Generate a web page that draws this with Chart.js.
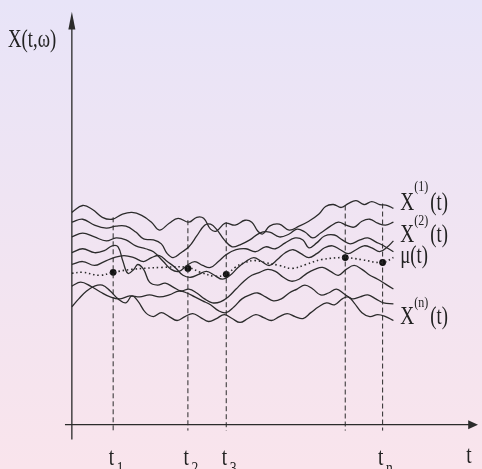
<!DOCTYPE html>
<html>
<head>
<meta charset="utf-8">
<script src="https://cdn.jsdelivr.net/npm/chart.js@4"></script>
<style>
    html, body { margin: 0; padding: 0; background: #f0e4f1; }
    canvas { display: block; }
</style>
</head>
<body>
<canvas id="chart" width="482" height="469"></canvas>
<script>
// sample paths X^(k)(t): pairs of [t, value]
var pathA = [[0,216],[11,223],[21,219],[31,211],[41,209],[51,214],[61,216],[71,213],[81,206],[89,198],[99,205],[108,210],[119,206],[127,211],[134,210],[141,199],[147,197],[156,205],[166,203],[176,208],[183,206],[189,197],[194,194],[201,202],[211,204],[221,198],[231,202],[241,207],[251,214],[258,222],[266,224],[274,221],[281,225],[289,228],[297,224],[305,227],[313,224],[321,223],[327,220]];
var pathB = [[0,206],[11,209],[23,203],[35,200],[45,202],[55,202],[65,196],[73,189],[83,188],[91,184],[97,174],[103,170],[111,175],[119,181],[127,192],[135,203],[141,204],[147,199],[155,188],[163,181],[171,183],[181,188],[191,195],[201,196],[211,191],[221,194],[229,199],[237,196],[245,190],[253,195],[263,202],[271,206],[279,203],[287,201],[295,207],[303,209],[311,205],[319,203],[327,206]];
var pathC = [[0,191],[11,195],[23,191],[35,187],[45,190],[55,188],[65,182],[75,179],[83,176],[93,166],[101,158],[109,156],[117,162],[125,166],[133,162],[141,160],[149,166],[157,173],[167,178],[177,179],[187,176],[197,181],[207,179],[217,185],[227,190],[235,188],[241,180],[249,185],[257,192],[267,193],[275,188],[283,184],[293,188],[301,190],[309,186],[317,182],[327,176]];
var pathD = [[0,175],[11,179],[23,175],[33,177],[41,182],[47,181],[52,166],[57,154],[63,158],[67,163],[73,158],[79,145],[87,142],[95,144],[103,140],[111,136],[119,138],[127,134],[135,128],[143,124],[151,125],[159,130],[167,138],[175,146],[183,152],[191,155],[199,158],[207,156],[215,150],[223,146],[231,148],[239,154],[247,158],[255,160],[263,156],[271,152],[279,158],[287,162],[295,158],[303,152],[311,148],[319,143],[327,138]];
var pathE = [[0,163],[11,166],[23,162],[33,166],[43,170],[53,172],[63,170],[73,166],[81,170],[89,172],[97,166],[105,160],[113,152],[121,150],[129,153],[137,156],[145,152],[153,148],[161,152],[169,160],[177,166],[185,170],[193,166],[201,162],[209,168],[217,175],[225,178],[233,174],[241,170],[249,174],[257,180],[265,182],[273,178],[281,174],[289,178],[297,182],[305,180],[313,176],[321,181],[327,187]];
var pathF = [[0,141],[9,145],[19,141],[29,135],[39,130],[49,128],[59,131],[69,130],[79,132],[89,130],[99,132],[109,136],[117,134],[125,130],[133,126],[141,122],[149,116],[157,114],[165,120],[173,128],[181,132],[189,134],[197,130],[205,126],[213,128],[221,134],[229,138],[237,142],[245,138],[253,132],[261,134],[269,138],[277,133],[285,128],[293,130],[301,132],[309,128],[317,124],[327,123]];
var pathG = [[0,120],[7,128],[15,136],[23,141],[31,142],[39,136],[47,128],[55,124],[61,131],[67,126],[75,114],[83,110],[91,114],[99,110],[107,106],[115,110],[123,113],[131,109],[139,105],[147,108],[155,112],[163,108],[171,104],[179,108],[187,112],[195,109],[203,106],[211,110],[219,113],[227,110],[235,108],[243,114],[251,120],[259,124],[267,122],[275,128],[281,130],[287,124],[295,114],[303,110],[311,112],[319,110],[327,106]];

// mean function mu(t)
var meanPath = [[0,154],[11,155],[28,152],[42,155],[61,158],[91,160],[118,160],[131,155],[146,151],[157,153],[166,160],[176,165],[186,167],[196,165],[211,162],[224,159],[238,163],[254,168],[278,170],[294,168],[316,165],[327,170]];

// observation times and mu at those times
var obsTimes = [42, 118, 157, 278, 316];
var obsMeans = [155, 159, 153, 170, 165];
var obsTops = [211, 208, 206, 223, 225];
var obsLabels = ["1", "2", "3", "", "n"];

var ink = "#2b2b2b";

function pts(arr) {
    return arr.map(function (p) { return { x: p[0], y: p[1] }; });
}

var datasets = [];
[pathA, pathB, pathC, pathD, pathE, pathF, pathG].forEach(function (p) {
    datasets.push({
        data: pts(p), borderColor: ink, borderWidth: 1.3,
        pointRadius: 0, tension: 0.4, fill: false
    });
});
datasets.push({
    data: pts(meanPath), borderColor: ink, borderWidth: 1.6,
    borderDash: [1.5, 2.8], pointRadius: 0, tension: 0.4, fill: false
});
obsTimes.forEach(function (t, i) {
    datasets.push({
        data: [{ x: t, y: obsTops[i] }, { x: t, y: -6 }],
        borderColor: ink, borderWidth: 1, borderDash: [5, 3],
        pointRadius: 0, fill: false
    });
});
datasets.push({
    data: obsTimes.map(function (t, i) { return { x: t, y: obsMeans[i] }; }),
    showLine: false, pointRadius: 3.4, pointStyle: "circle",
    backgroundColor: "#111", borderColor: "#111", borderWidth: 0
});

function drawText(ctx, s, x, y, size, sx) {
    ctx.save();
    ctx.font = size + 'px "Liberation Serif"';
    ctx.translate(x, y);
    ctx.scale(sx, 1);
    ctx.fillText(s, 0, 0);
    ctx.restore();
}

var decor = {
    id: "decor",
    beforeDraw: function (chart) {
        var ctx = chart.ctx;
        var g = ctx.createLinearGradient(0, 0, 0, chart.height);
        g.addColorStop(0, "#e8e4f8");
        g.addColorStop(1, "#f9e4ec");
        ctx.save();
        ctx.fillStyle = g;
        ctx.fillRect(0, 0, chart.width, chart.height);
        ctx.restore();
    },
    afterDraw: function (chart) {
        var ctx = chart.ctx;
        var xs = chart.scales.x, ys = chart.scales.y;
        var X = function (v) { return xs.getPixelForValue(v); };
        var Y = function (v) { return ys.getPixelForValue(v); };
        ctx.save();
        ctx.strokeStyle = ink;
        ctx.fillStyle = ink;
        ctx.lineWidth = 1.3;
        // axes
        ctx.beginPath();
        ctx.moveTo(X(0), Y(-15));
        ctx.lineTo(X(0), Y(404));
        ctx.moveTo(X(-7), Y(0));
        ctx.lineTo(X(404), Y(0));
        ctx.stroke();
        ctx.beginPath();
        ctx.moveTo(X(0), Y(420));
        ctx.lineTo(X(0) - 3.5, Y(402));
        ctx.lineTo(X(0) + 3.5, Y(402));
        ctx.closePath();
        ctx.fill();
        ctx.beginPath();
        ctx.moveTo(X(413), Y(0));
        ctx.lineTo(X(403), Y(0) - 4.5);
        ctx.lineTo(X(403), Y(0) + 4.5);
        ctx.closePath();
        ctx.fill();

        ctx.fillStyle = "#222";
        // axis titles
        drawText(ctx, "X(t,\u03c9)", 8, 47, 26, 0.72);
        drawText(ctx, "t", X(401), 463, 26, 0.75);
        // tick labels t_k
        obsTimes.forEach(function (t, i) {
            if (!obsLabels[i]) return;
            var px = X(t);
            drawText(ctx, "t", px - 4.5, 465, 26, 0.75);
            drawText(ctx, obsLabels[i], px + 3.5, 473, 17, 0.8);
        });
        // path labels
        var lx = X(334);
        drawText(ctx, "X", lx, 210, 26, 0.74);
        drawText(ctx, "(1)", lx + 14, 191, 15, 0.8);
        drawText(ctx, "(t)", lx + 30, 210, 26, 0.72);
        drawText(ctx, "X", lx, 242, 26, 0.74);
        drawText(ctx, "(2)", lx + 14, 225, 15, 0.8);
        drawText(ctx, "(t)", lx + 30, 242, 26, 0.72);
        drawText(ctx, "\u03bc(t)", lx, 263, 26, 0.72);
        drawText(ctx, "X", lx, 324, 26, 0.74);
        drawText(ctx, "(n)", lx + 14, 307, 15, 0.8);
        drawText(ctx, "(t)", lx + 30, 324, 26, 0.72);
        ctx.restore();
    }
};

new Chart(document.getElementById("chart").getContext("2d"), {
    type: "line",
    data: { datasets: datasets },
    options: {
        responsive: false,
        animation: false,
        layout: { padding: 0 },
        plugins: { legend: { display: false }, tooltip: { enabled: false } },
        scales: {
            x: { type: "linear", display: false, min: -69, max: 413 },
            y: { type: "linear", display: false, min: -41, max: 428 }
        }
    },
    plugins: [decor]
});
</script>
</body>
</html>
